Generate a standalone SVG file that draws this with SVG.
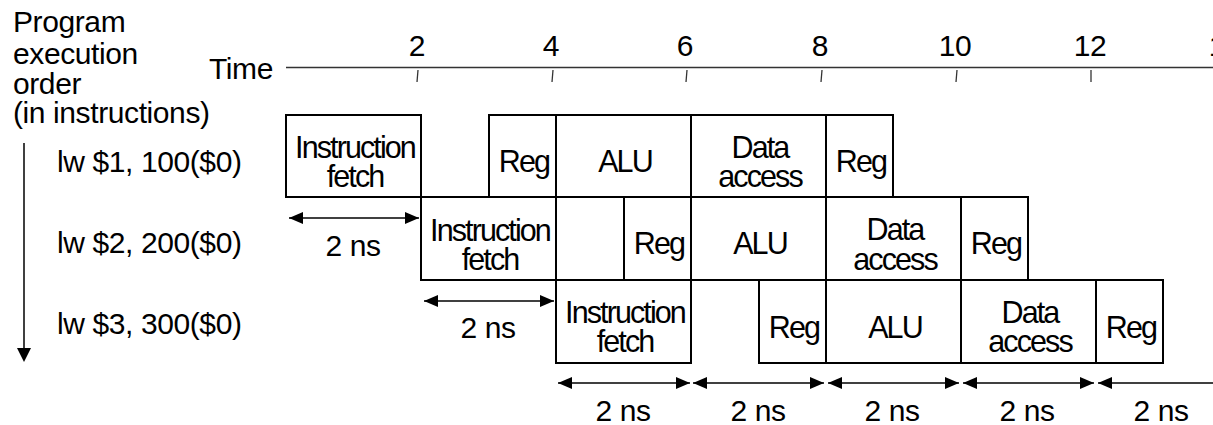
<svg xmlns="http://www.w3.org/2000/svg" width="1213" height="425" viewBox="0 0 1213 425">
<style>
text{font-family:"Liberation Sans",Arial,sans-serif;font-size:30px;letter-spacing:-0.4px;fill:#000}
.box{fill:#fff;stroke:#000;stroke-width:2}
.bt{text-anchor:middle;font-size:30.5px;letter-spacing:-1.9px}
.c{text-anchor:middle}
.tl{stroke:#333;stroke-width:1.3;fill:none}
.dim{stroke:#000;stroke-width:1.5;fill:none;marker-start:url(#ah);marker-end:url(#ah)}
</style>
<defs>
<marker id="ah" viewBox="0 0 14 12" refX="14" refY="6" markerWidth="14" markerHeight="12" markerUnits="userSpaceOnUse" orient="auto-start-reverse">
<path d="M0,0 L14,6 L0,12 Z" fill="#000"/>
</marker>
</defs>
<g id="title">
<text x="13" y="32">Program<tspan x="13" y="64">execution</tspan><tspan x="13" y="94">order</tspan><tspan x="13" y="123">(in instructions)</tspan></text>
</g>
<g id="timeline">
<text x="209" y="79">Time</text>
<line class="tl" x1="286" y1="67.5" x2="1213" y2="67.5"/>
<line class="tl" x1="418" y1="70" x2="417" y2="82"/>
<line class="tl" x1="553" y1="70" x2="552" y2="82"/>
<line class="tl" x1="687" y1="70" x2="686" y2="82"/>
<line class="tl" x1="822" y1="70" x2="821" y2="82"/>
<line class="tl" x1="957" y1="70" x2="956" y2="82"/>
<line class="tl" x1="1091" y1="70" x2="1091" y2="82"/>
<text class="c" x="417" y="56">2</text>
<text class="c" x="551" y="56">4</text>
<text class="c" x="685" y="56">6</text>
<text class="c" x="820" y="56">8</text>
<text class="c" x="955" y="56">10</text>
<text class="c" x="1090" y="56">12</text>
<text class="c" x="1225" y="56">14</text>
</g>
<g id="instr1"><text x="57" y="172">lw $1, 100($0)</text></g>
<g id="instr2"><text x="57" y="253">lw $2, 200($0)</text></g>
<g id="instr3"><text x="57" y="334">lw $3, 300($0)</text></g>
<g id="r1-if"><rect class="box" x="286" y="115" width="135" height="82"/><text class="bt" x="355" y="158">Instruction<tspan x="355" y="187">fetch</tspan></text></g>
<g id="r1-reg"><rect class="box" x="489" y="115" width="67" height="82"/><text class="bt" x="524" y="172">Reg</text></g>
<g id="r1-alu"><rect class="box" x="556" y="115" width="135" height="82"/><text class="bt" x="625" y="172">ALU</text></g>
<g id="r1-da"><rect class="box" x="691" y="115" width="135" height="82"/><text class="bt" x="760" y="158">Data<tspan x="760" y="187">access</tspan></text></g>
<g id="r1-reg2"><rect class="box" x="826" y="115" width="67" height="82"/><text class="bt" x="861" y="172">Reg</text></g>
<g id="r2-if"><rect class="box" x="421" y="197" width="135" height="83"/><text class="bt" x="490" y="241">Instruction<tspan x="490" y="270">fetch</tspan></text></g>
<g id="r2-reg"><rect class="box" x="624" y="197" width="67" height="83"/><text class="bt" x="659" y="254">Reg</text></g>
<g id="r2-alu"><rect class="box" x="691" y="197" width="135" height="83"/><text class="bt" x="760" y="254">ALU</text></g>
<g id="r2-da"><rect class="box" x="826" y="197" width="135" height="83"/><text class="bt" x="895" y="240">Data<tspan x="895" y="270">access</tspan></text></g>
<g id="r2-reg2"><rect class="box" x="961" y="197" width="67" height="83"/><text class="bt" x="996" y="254">Reg</text></g>
<g id="r3-if"><rect class="box" x="556" y="280" width="135" height="83"/><text class="bt" x="625" y="323">Instruction<tspan x="625" y="352">fetch</tspan></text></g>
<g id="r3-reg"><rect class="box" x="759" y="280" width="67" height="83"/><text class="bt" x="794" y="338">Reg</text></g>
<g id="r3-alu"><rect class="box" x="826" y="280" width="135" height="83"/><text class="bt" x="895" y="338">ALU</text></g>
<g id="r3-da"><rect class="box" x="961" y="280" width="135" height="83"/><text class="bt" x="1030" y="323">Data<tspan x="1030" y="352">access</tspan></text></g>
<g id="r3-reg2"><rect class="box" x="1096" y="280" width="67" height="83"/><text class="bt" x="1131" y="338">Reg</text></g>
<g id="connectors">
<line x1="24" y1="143" x2="24" y2="348" stroke="#000" stroke-width="1.5"/>
<path d="M17,348 L31,348 L24,362 Z" fill="#000"/>
<line class="dim" x1="289" y1="218" x2="419" y2="218"/>
<line class="dim" x1="424" y1="301" x2="554" y2="301"/>
<line class="dim" x1="558" y1="383" x2="690" y2="383"/>
<line class="dim" x1="693" y1="383" x2="824" y2="383"/>
<line class="dim" x1="828" y1="383" x2="959" y2="383"/>
<line class="dim" x1="963" y1="383" x2="1094" y2="383"/>
<line class="dim" x1="1098" y1="383" x2="1229" y2="383"/>
</g>
<g id="labels">
<text class="c" x="353" y="256">2 ns</text>
<text class="c" x="488" y="338">2 ns</text>
<text class="c" x="623" y="421">2 ns</text>
<text class="c" x="758" y="421">2 ns</text>
<text class="c" x="892" y="421">2 ns</text>
<text class="c" x="1027" y="421">2 ns</text>
<text class="c" x="1161" y="421">2 ns</text>
</g>
</svg>
